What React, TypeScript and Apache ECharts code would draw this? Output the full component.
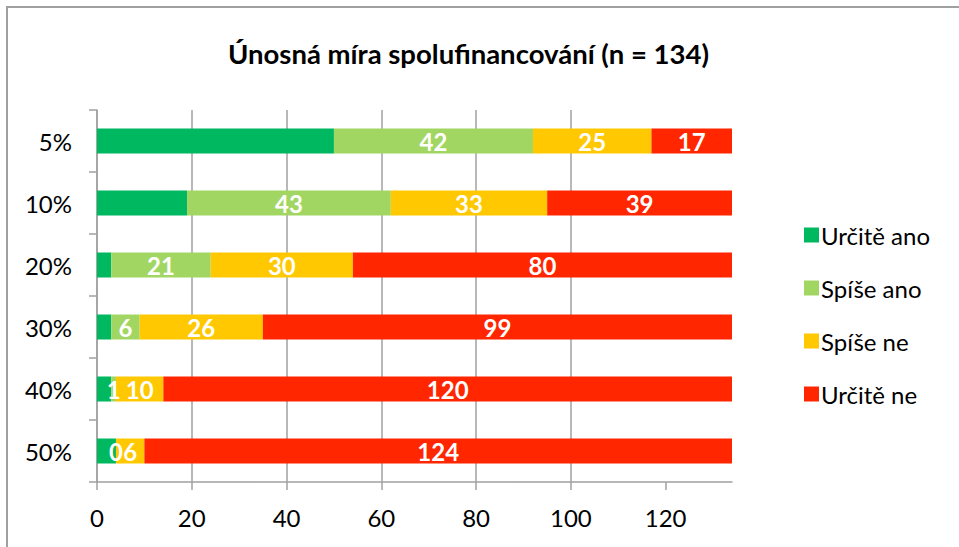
import { useEffect, useRef } from 'react';
import * as echarts from 'echarts';

const title = 'Únosná míra spolufinancování (n = 134)';
const categories = ['5%', '10%', '20%', '30%', '40%', '50%'];
const seriesNames = ['Určitě ano', 'Spíše ano', 'Spíše ne', 'Určitě ne'];
const urciteAno = [50, 19, 3, 3, 3, 4];
const spiseAno = [42, 43, 21, 6, 1, 0];
const spiseNe = [25, 33, 30, 26, 10, 6];
const urciteNe = [17, 39, 80, 99, 120, 124];
const xTicks = [0, 20, 40, 60, 80, 100, 120];
const xMax = 134;

const colors = ['#00B860', '#A2D662', '#FFC800', '#FF2600'];
const FONT = 'Lato';
const GRAY = '#A0A0A0';

export default function App() {
  const ref = useRef<HTMLDivElement>(null);
  useEffect(() => {
    if (!ref.current) return;
    const chart = echarts.init(ref.current, null, { renderer: 'svg' });
    const values = [urciteAno, spiseAno, spiseNe, urciteNe];
    chart.setOption({
      animation: false,
      backgroundColor: '#FFFFFF',
      color: colors,
      textStyle: { fontFamily: FONT },
      graphic: [
        {
          type: 'rect',
          shape: { x: 7, y: 7, width: 1200, height: 1200 },
          style: { fill: 'none', stroke: GRAY, lineWidth: 2 },
          silent: true,
        },
        {
          type: 'text',
          x: 468.5,
          y: 53,
          style: {
            text: title,
            fontFamily: FONT,
            fontSize: 27.5,
            fontWeight: 'bold',
            fill: '#000000',
            textAlign: 'center',
            textVerticalAlign: 'middle',
          },
        },
      ],
      legend: {
        orient: 'vertical',
        left: 799,
        top: 218,
        itemWidth: 15,
        itemHeight: 15,
        itemGap: 29,
        icon: 'rect',
        data: seriesNames,
        textStyle: {
          fontFamily: FONT,
          fontSize: 24,
          color: '#000000',
          lineHeight: 24,
          padding: [0, 0, 0, -3],
        },
      },
      grid: { left: 97, right: 227, top: 110, bottom: 65 },
      xAxis: {
        type: 'value',
        min: 0,
        max: xMax,
        interval: 20,
        axisLine: { show: true, lineStyle: { color: GRAY, width: 1.5 } },
        axisTick: { show: true, length: 8, lineStyle: { color: GRAY, width: 1.5 }, customValues: xTicks },
        axisLabel: {
          customValues: xTicks,
          fontFamily: FONT,
          fontSize: 24,
          color: '#000000',
          margin: 23,
        },
        splitLine: { show: true, showMaxLine: false, lineStyle: { color: GRAY, width: 1.5 } },
      },
      yAxis: {
        type: 'category',
        data: categories,
        inverse: true,
        axisLine: { show: true, lineStyle: { color: GRAY, width: 1.5 } },
        axisTick: { show: true, length: 8, lineStyle: { color: GRAY, width: 1.5 } },
        axisLabel: { fontFamily: FONT, fontSize: 24, color: '#000000', margin: 25 },
        splitLine: { show: false },
      },
      series: seriesNames.map((name, i) => ({
        name,
        type: 'bar',
        stack: 'total',
        barWidth: 25,
        data: values[i],
        itemStyle: { color: colors[i] },
        label: {
          show: i > 0,
          position: 'inside',
          color: '#FFFFFF',
          fontFamily: FONT,
          fontWeight: 'bold',
          fontSize: 24,
        },
      })),
    });
    return () => chart.dispose();
  }, []);
  return (
    <div
      ref={ref}
      style={{ position: 'absolute', left: 0, top: 0, width: 959, height: 547 }}
    />
  );
}
